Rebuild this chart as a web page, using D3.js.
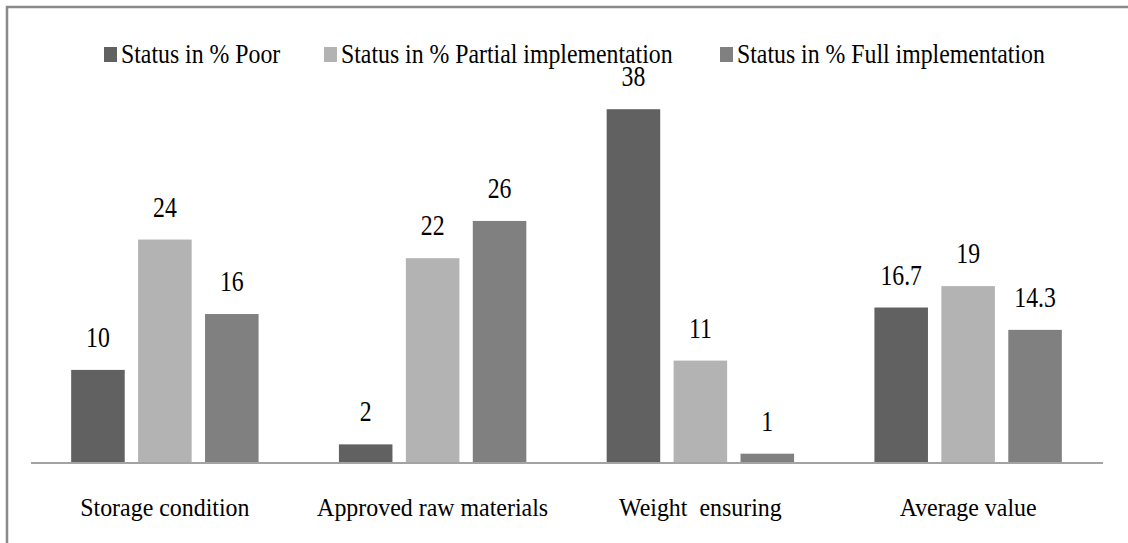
<!DOCTYPE html>
<html>
<head>
<meta charset="utf-8">
<script src="https://cdn.jsdelivr.net/npm/d3@7"></script>
</head>
<body style="margin:0">
<div id="chart"></div>
<script>
var categories = ['Storage condition', 'Approved raw materials', 'Weight  ensuring', 'Average value'];
var seriesNames = ['Status in % Poor', 'Status in % Partial implementation', 'Status in % Full implementation'];
var poor = [10, 2, 38, 16.7];
var partial = [24, 22, 11, 19];
var full = [16, 26, 1, 14.3];
var colorValue = ['#616161', '#b3b3b3', '#808080'];

var width = 1128,
    height = 543,
    baseY = 463,
    serif = "'Liberation Serif'";

var series = [poor, partial, full];

var svg = d3.select('#chart').append('svg')
    .attr('width', width)
    .attr('height', height);

// outer frame (runs off the right/bottom edge like the picture)
svg.append('rect')
    .attr('x', 7).attr('y', 7)
    .attr('width', 1140).attr('height', 560)
    .attr('fill', 'none')
    .attr('stroke', '#8a8a8a')
    .attr('stroke-width', 2.5);

var x0 = d3.scaleBand()
    .domain(categories)
    .range([31, 1102])
    .paddingInner(0.3)
    .paddingOuter(0.15);

var x1 = d3.scaleBand()
    .domain(d3.range(seriesNames.length))
    .range([0, x0.bandwidth()])
    .paddingInner(0.2);

var y = d3.scaleLinear()
    .domain([0, 40])
    .range([baseY, baseY - 372.4]);

var groups = svg.selectAll('g.grp')
    .data(categories)
  .enter().append('g')
    .attr('class', 'grp')
    .attr('transform', function(d) { return 'translate(' + x0(d) + ',0)'; });

groups.selectAll('rect')
    .data(function(d, ci) { return series.map(function(s, si) { return {si: si, v: s[ci]}; }); })
  .enter().append('rect')
    .attr('x', function(d) { return x1(d.si); })
    .attr('y', function(d) { return y(d.v); })
    .attr('width', x1.bandwidth())
    .attr('height', function(d) { return baseY - y(d.v); })
    .attr('fill', function(d) { return colorValue[d.si]; });

// value labels, narrow like the picture
groups.selectAll('text.val')
    .data(function(d, ci) { return series.map(function(s, si) { return {si: si, v: s[ci]}; }); })
  .enter().append('text')
    .attr('class', 'val')
    .attr('text-anchor', 'middle')
    .style('font-family', serif)
    .style('font-size', '29px')
    .attr('transform', function(d) {
      return 'translate(' + (x1(d.si) + x1.bandwidth() / 2) + ',' + (y(d.v) - 23) + ') scale(0.82,1)';
    })
    .text(function(d) { return d.v; });

// baseline
svg.append('line')
    .attr('x1', 31).attr('x2', 1103)
    .attr('y1', baseY).attr('y2', baseY)
    .attr('stroke', '#a3a3a3')
    .attr('stroke-width', 2);

// category labels
svg.selectAll('text.cat')
    .data(categories)
  .enter().append('text')
    .attr('class', 'cat')
    .attr('text-anchor', 'middle')
    .style('font-family', serif)
    .style('font-size', '26px')
    .style('white-space', 'pre')
    .attr('transform', function(d) {
      return 'translate(' + (x0(d) + x0.bandwidth() / 2) + ',516) scale(0.92,1)';
    })
    .text(function(d) { return d; });

// legend
var legendX = [104, 324, 720];
var legend = svg.selectAll('g.legend')
    .data(seriesNames)
  .enter().append('g')
    .attr('class', 'legend')
    .attr('transform', function(d, i) { return 'translate(' + legendX[i] + ',0)'; });

legend.append('rect')
    .attr('x', 0).attr('y', 47)
    .attr('width', 13).attr('height', 15)
    .attr('fill', function(d, i) { return colorValue[i]; });

legend.append('text')
    .style('font-family', serif)
    .style('font-size', '28px')
    .attr('transform', 'translate(17,63) scale(0.85,1)')
    .text(function(d) { return d; });
</script>
</body>
</html>
